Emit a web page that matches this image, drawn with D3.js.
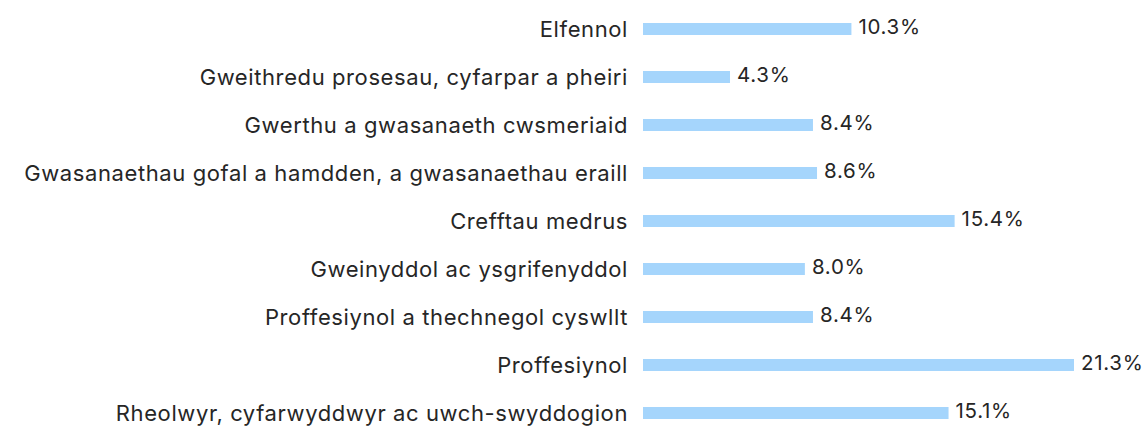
<!DOCTYPE html>
<html>
<head>
<meta charset="utf-8">
<script src="https://cdn.jsdelivr.net/npm/d3@7"></script>
<style>
  html, body { margin: 0; padding: 0; background: #ffffff; }
  svg { display: block; }
</style>
</head>
<body>
<svg id="chart" width="1145" height="426"></svg>
<script>
const categories = [
  "Elfennol",
  "Gweithredu prosesau, cyfarpar a pheiri",
  "Gwerthu a gwasanaeth cwsmeriaid",
  "Gwasanaethau gofal a hamdden, a gwasanaethau eraill",
  "Crefftau medrus",
  "Gweinyddol ac ysgrifenyddol",
  "Proffesiynol a thechnegol cyswllt",
  "Proffesiynol",
  "Rheolwyr, cyfarwyddwyr ac uwch-swyddogion"
];
const values = [10.3, 4.3, 8.4, 8.6, 15.4, 8.0, 8.4, 21.3, 15.1];
const valueLabels = ["10.3%", "4.3%", "8.4%", "8.6%", "15.4%", "8.0%", "8.4%", "21.3%", "15.1%"];

const svg = d3.select("#chart");
const barLeft = 643, labelRight = 628;
const font = "Inter, 'Noto Sans', sans-serif";

const x = d3.scaleLinear().domain([0, 21.3]).range([barLeft, 1074]);
const y = d3.scaleBand().domain(categories).range([5, 437]).paddingInner(0.75).paddingOuter(0.375);

const data = categories.map((c, i) => ({ c, v: values[i], t: valueLabels[i] }));

svg.selectAll("rect.bar").data(data).enter().append("rect")
  .attr("class", "bar")
  .attr("x", x(0))
  .attr("y", d => y(d.c) + y.bandwidth() / 2 - 6)
  .attr("width", d => x(d.v) - x(0))
  .attr("height", 12)
  .attr("fill", "#a5d5fc");

svg.selectAll("text.cat").data(data).enter().append("text")
  .attr("class", "cat")
  .attr("x", labelRight)
  .attr("y", d => y(d.c) + y.bandwidth() / 2)
  .attr("dy", "0.36em")
  .attr("text-anchor", "end")
  .attr("font-family", font)
  .attr("font-size", 22)
  .attr("letter-spacing", "0.6")
  .attr("fill", "#262626")
  .text(d => d.c);

svg.selectAll("text.val").data(data).enter().append("text")
  .attr("class", "val")
  .attr("x", d => x(d.v) + 7)
  .attr("y", d => y(d.c) + y.bandwidth() / 2)
  .attr("dy", "0.25em")
  .attr("font-family", font)
  .attr("font-size", 20.5)
  .attr("letter-spacing", "0.7")
  .attr("fill", "#262626")
  .text(d => d.t);
</script>
</body>
</html>
